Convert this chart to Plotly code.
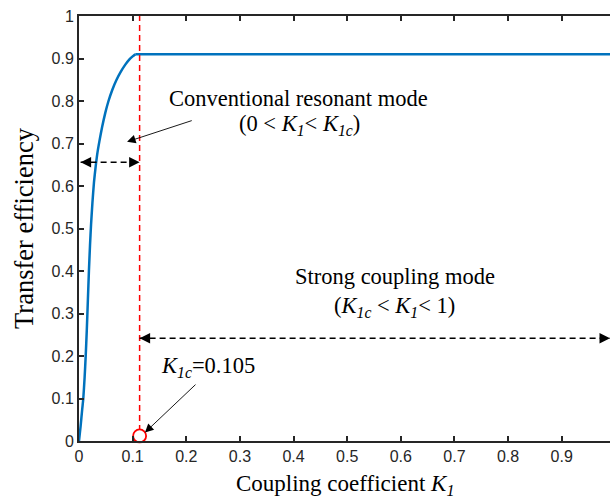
import plotly.graph_objects as go

# Data
k_rise = [0, 0.003, 0.006, 0.008, 0.0105, 0.0125, 0.0145, 0.0165, 0.0185, 0.0205, 0.0225,
          0.025, 0.028, 0.031, 0.034, 0.038, 0.043, 0.049, 0.055, 0.062, 0.07, 0.078,
          0.086, 0.094, 0.1, 0.105]
eff_rise = [0, 0.035, 0.075, 0.1, 0.15, 0.2, 0.26, 0.33, 0.4, 0.46, 0.51,
            0.56, 0.61, 0.645, 0.675, 0.705, 0.738, 0.772, 0.8, 0.826, 0.85, 0.869,
            0.885, 0.898, 0.905, 0.91]
k_flat = [0.105, 1.0]
eff_flat = [0.91, 0.91]
k_crit_line = 0.113
k_crit_label = 0.105
x_ticks = [0, 0.1, 0.2, 0.3, 0.4, 0.5, 0.6, 0.7, 0.8, 0.9]
y_ticks = [0, 0.1, 0.2, 0.3, 0.4, 0.5, 0.6, 0.7, 0.8, 0.9, 1]
y_tick_text = ["0", "0.1", "0.2", "0.3", "0.4", "0.5", "0.6", "0.7", "0.8", "0.9", "1"]
arrow1_y = 0.656
arrow1_x = [0.003, k_crit_line]
arrow2_y = 0.242
arrow2_x = [k_crit_line, 0.99]

XMAX = 0.99
serif = "Liberation Serif, Times New Roman, serif"
sans = "Liberation Sans, Arial, sans-serif"
K1 = "<i>K</i><sub><i>1</i></sub>"
K1c = "<i>K</i><sub><i>1c</i></sub>"

fig = go.Figure()

fig.add_trace(go.Scatter(x=k_rise, y=eff_rise, mode="lines", line_shape="spline",
                         line=dict(color="#0072BD", width=2.5, smoothing=0.5), showlegend=False))
fig.add_trace(go.Scatter(x=k_flat, y=eff_flat, mode="lines",
                         line=dict(color="#0072BD", width=2.5), showlegend=False))
# red dashed vertical line
fig.add_trace(go.Scatter(x=[k_crit_line, k_crit_line], y=[0, 1], mode="lines",
                         line=dict(color="#FF0000", width=1.5, dash="6px,4px"), showlegend=False))
# black dashed range arrows
fig.add_trace(go.Scatter(x=arrow1_x, y=[arrow1_y, arrow1_y], mode="lines",
                         line=dict(color="black", width=1.5, dash="6px,4px"), showlegend=False))
fig.add_trace(go.Scatter(x=arrow2_x, y=[arrow2_y, arrow2_y], mode="lines",
                         line=dict(color="black", width=1.5, dash="6px,4px"), showlegend=False))
# red circle marker
fig.add_trace(go.Scatter(x=[k_crit_line], y=[0.012], mode="markers",
                         marker=dict(symbol="circle", size=13, color="white",
                                     line=dict(color="#FF0000", width=1.8)),
                         showlegend=False, cliponaxis=False))

def head(x, y, dx):
    fig.add_annotation(x=x, y=y, ax=x + dx, ay=y, axref="x", ayref="y", xref="x", yref="y",
                       text="", showarrow=True, arrowhead=2, arrowsize=1.4, arrowwidth=1.5,
                       arrowcolor="black", standoff=0)

head(arrow1_x[0], arrow1_y, 0.012)
head(arrow1_x[1], arrow1_y, -0.012)
head(arrow2_x[1], arrow2_y, -0.012)
head(arrow2_x[0], arrow2_y, 0.012)

# thin pointer arrows
fig.add_annotation(x=0.0896, y=0.704, ax=0.213, ay=0.755, axref="x", ayref="y",
                   text="", showarrow=True, arrowhead=2, arrowsize=1.9, arrowwidth=0.9,
                   arrowcolor="black", standoff=0)
fig.add_annotation(x=0.123, y=0.02, ax=0.220, ay=0.136, axref="x", ayref="y",
                   text="", showarrow=True, arrowhead=2, arrowsize=1.9, arrowwidth=0.9,
                   arrowcolor="black", standoff=0)

tf = dict(family=serif, size=22.5, color="black")
fig.add_annotation(x=0.41, y=0.807, text="Conventional resonant mode", showarrow=False, font=tf)
fig.add_annotation(x=0.412, y=0.743, text="(0 &lt; " + K1 + "&lt; " + K1c + ")", showarrow=False, font=tf)
fig.add_annotation(x=0.589, y=0.386, text="Strong coupling mode", showarrow=False, font=tf)
fig.add_annotation(x=0.589, y=0.315, text="(" + K1c + " &lt; " + K1 + "&lt; 1)", showarrow=False, font=tf)
fig.add_annotation(x=0.241, y=0.174, text=K1c + "=0.105", showarrow=False, font=tf)

# x axis title as annotation (precise placement)
fig.add_annotation(xref="paper", yref="paper", x=0.5, y=-0.104, yanchor="middle",
                   text="Coupling coefficient " + K1, showarrow=False,
                   font=dict(family=serif, size=23, color="black"))

axis_common = dict(showgrid=False, zeroline=False, showline=True, linecolor="#262626",
                   linewidth=2, ticks="inside", ticklen=5, tickwidth=1.5, tickcolor="#262626",
                   automargin=False,
                   tickfont=dict(family=sans, size=16, color="#262626"))

fig.update_xaxes(range=[0, XMAX], tickvals=x_ticks, ticktext=[str(v) if v else "0" for v in x_ticks],
                 mirror="ticks", **axis_common)
fig.update_yaxes(range=[0, 1], tickvals=y_ticks, ticktext=y_tick_text, mirror=False,
                 title=dict(text="Transfer efficiency", font=dict(family=serif, size=26.5, color="black"),
                            standoff=10),
                 **axis_common)

fig.update_layout(width=610, height=498, margin=dict(l=79, r=0, t=16, b=57),
                  paper_bgcolor="white", plot_bgcolor="white")

fig.write_html("out.html", config={"displayModeBar": False},
               post_script="document.body.style.margin='0';document.body.style.overflow='hidden';")
